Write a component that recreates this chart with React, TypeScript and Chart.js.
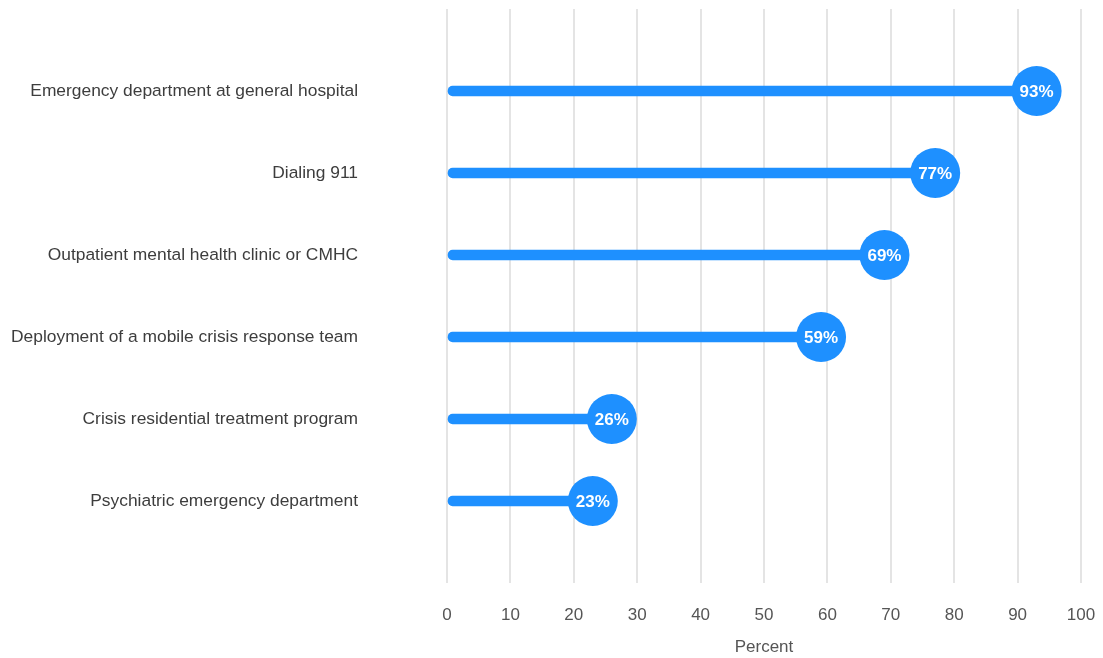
import React, { useEffect, useRef } from "react";
import { Chart, registerables } from "chart.js";

Chart.register(...registerables);

const categories = [
  "Emergency department at general hospital",
  "Dialing 911",
  "Outpatient mental health clinic or CMHC",
  "Deployment of a mobile crisis response team",
  "Crisis residential treatment program",
  "Psychiatric emergency department",
];
const values = [93, 77, 69, 59, 26, 23];
const xTitle = "Percent";

const BLUE = "#1E90FF";
const FONT = "'Liberation Sans', Arial, sans-serif";

export default function App() {
  const ref = useRef<HTMLCanvasElement | null>(null);
  useEffect(() => {
    document.body.style.margin = "0";
    const labels = ["", ...categories, ""];
    const padded = [null, ...values, null];
    const valueLabels = {
      id: "valueLabels",
      afterDatasetsDraw(chart: any) {
        const ctx = chart.ctx;
        const meta = chart.getDatasetMeta(1);
        ctx.save();
        ctx.fillStyle = "#ffffff";
        ctx.font = `bold 17px ${FONT}`;
        ctx.textAlign = "center";
        ctx.textBaseline = "middle";
        meta.data.forEach((pt: any, i: number) => {
          const v = padded[i];
          if (v == null) return;
          ctx.fillText(`${v}%`, pt.x, pt.y + 1);
        });
        ctx.restore();
      },
    };
    const chart = new Chart(ref.current!, {
      type: "bar",
      data: {
        labels,
        datasets: [
          {
            type: "bar",
            data: padded as any,
            backgroundColor: BLUE,
            barThickness: 10,
            borderRadius: 5,
            borderSkipped: false,
          },
          {
            type: "line",
            indexAxis: "y",
            data: padded as any,
            showLine: false,
            pointRadius: 25,
            pointHoverRadius: 25,
            pointBackgroundColor: BLUE,
            pointBorderWidth: 0,
            borderColor: BLUE,
            clip: false,
          } as any,
        ],
      },
      options: {
        indexAxis: "y",
        animation: false,
        responsive: false,
        layout: { autoPadding: false, padding: { top: 9, left: 0, right: 22, bottom: 0 } } as any,
        plugins: { legend: { display: false }, tooltip: { enabled: false } },
        scales: {
          x: {
            min: 0,
            max: 100,
            afterFit: (s: any) => {
              s.height = 75;
              s.paddingLeft = 0;
              s.paddingRight = 0;
            },
            ticks: {
              stepSize: 10,
              color: "#555",
              font: { family: FONT, size: 17 },
              padding: 22,
              maxRotation: 0,
            },
            grid: { color: "#e4e4e4", lineWidth: 2, drawTicks: false },
            border: { display: false },
            title: {
              display: true,
              text: xTitle,
              color: "#555",
              font: { family: FONT, size: 17 },
              padding: { top: 0, bottom: 0 },
            },
          },
          y: {
            offset: false,
            afterFit: (s: any) => {
              s.width = 447;
              s.paddingTop = 0;
              s.paddingBottom = 0;
            },
            ticks: {
              color: "#3d3d3d",
              font: { family: FONT, size: 17.4 },
              padding: 89,
              autoSkip: false,
            },
            grid: { display: false, drawTicks: false },
            border: { display: false },
          },
        },
      },
      plugins: [valueLabels],
    });
    return () => chart.destroy();
  }, []);
  return (
    <div style={{ width: 1103, height: 658 }}>
      <canvas ref={ref} width={1103} height={658} style={{ display: "block" }} />
    </div>
  );
}
